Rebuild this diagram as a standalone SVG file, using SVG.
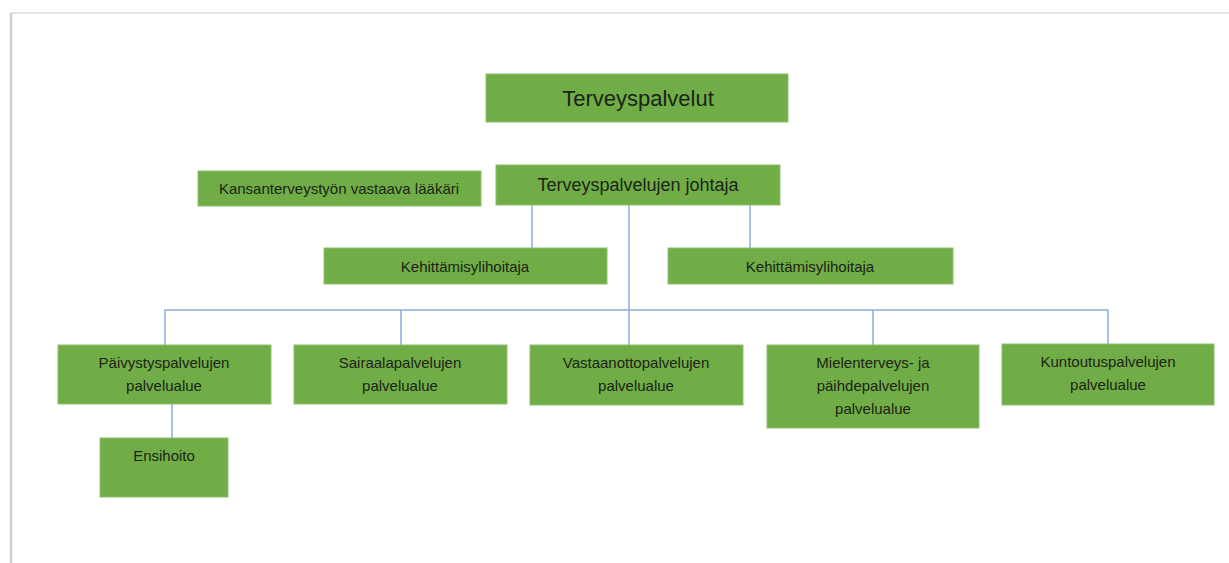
<svg xmlns="http://www.w3.org/2000/svg" width="1229" height="563" viewBox="0 0 1229 563">
<style>
.box{fill:#70ad47;stroke:#8fbf6f;stroke-width:1}
.t{font-family:"Liberation Sans",Arial,sans-serif;fill:#1c2416;text-anchor:middle}
.s{font-size:15px}
.c{stroke:#8eaadb;stroke-width:1.5;fill:none}
</style>
<rect x="0" y="0" width="1229" height="563" fill="#ffffff"/>
<g id="frame">
<line x1="11" y1="13" x2="1229" y2="13" stroke="#e4e4e4" stroke-width="2"/>
<line x1="11" y1="13" x2="11" y2="563" stroke="#cfcfcf" stroke-width="2.5"/>
</g>
<g id="connectors">
<line class="c" x1="532" y1="205" x2="532" y2="248"/>
<line class="c" x1="750" y1="205" x2="750" y2="248"/>
<line class="c" x1="629" y1="205" x2="629" y2="345"/>
<polyline class="c" points="165,345 165,310 1108,310 1108,344"/>
<line class="c" x1="401" y1="310" x2="401" y2="345"/>
<line class="c" x1="873" y1="310" x2="873" y2="345"/>
<line class="c" x1="172" y1="404" x2="172" y2="438"/>
</g>
<g id="terveyspalvelut">
<rect class="box" x="486" y="74" width="302" height="48"/>
<text class="t" x="638" y="106" font-size="22">Terveyspalvelut</text>
</g>
<g id="johtaja">
<rect class="box" x="496" y="165" width="284" height="40"/>
<text class="t" x="638" y="191" font-size="18">Terveyspalvelujen johtaja</text>
</g>
<g id="laakari">
<rect class="box" x="198" y="171" width="283" height="35"/>
<text class="t s" x="339" y="194">Kansanterveystyön vastaava lääkäri</text>
</g>
<g id="kehittamis1">
<rect class="box" x="324" y="248" width="283" height="36"/>
<text class="t s" x="465" y="272">Kehittämisylihoitaja</text>
</g>
<g id="kehittamis2">
<rect class="box" x="668" y="248" width="285" height="36"/>
<text class="t s" x="810" y="272">Kehittämisylihoitaja</text>
</g>
<g id="paivystys">
<rect class="box" x="58" y="345" width="213" height="59"/>
<text class="t s" x="164" y="368">Päivystyspalvelujen</text>
<text class="t s" x="164" y="391">palvelualue</text>
</g>
<g id="sairaala">
<rect class="box" x="294" y="345" width="213" height="59"/>
<text class="t s" x="400" y="368">Sairaalapalvelujen</text>
<text class="t s" x="400" y="391">palvelualue</text>
</g>
<g id="vastaanotto">
<rect class="box" x="530" y="345" width="213" height="60"/>
<text class="t s" x="636" y="368">Vastaanottopalvelujen</text>
<text class="t s" x="636" y="391">palvelualue</text>
</g>
<g id="mielenterveys">
<rect class="box" x="767" y="345" width="212" height="83"/>
<text class="t s" x="873" y="368">Mielenterveys- ja</text>
<text class="t s" x="873" y="391">päihdepalvelujen</text>
<text class="t s" x="873" y="414">palvelualue</text>
</g>
<g id="kuntoutus">
<rect class="box" x="1002" y="344" width="212" height="61"/>
<text class="t s" x="1108" y="367">Kuntoutuspalvelujen</text>
<text class="t s" x="1108" y="390">palvelualue</text>
</g>
<g id="ensihoito">
<rect class="box" x="100" y="438" width="128" height="59"/>
<text class="t s" x="164" y="461">Ensihoito</text>
</g>
</svg>
